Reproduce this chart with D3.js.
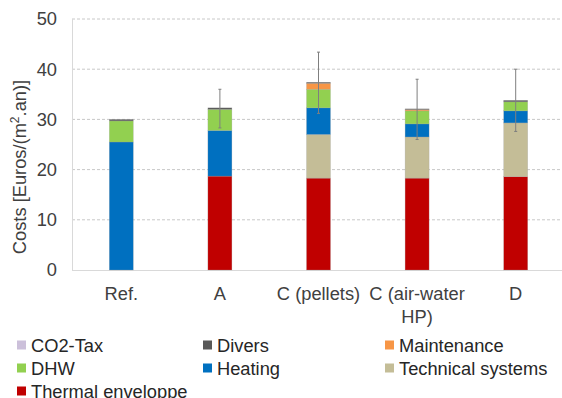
<!DOCTYPE html>
<html><head><meta charset="utf-8">
<script src="https://cdn.jsdelivr.net/npm/d3@7"></script>
<style>body{margin:0;background:#fff}svg{display:block;font-family:"Liberation Sans",Arial,sans-serif}</style>
</head><body><svg id="c" width="562" height="398"></svg>
<script>
const categories = ["Ref.", "A", "C (pellets)", "C (air-water HP)", "D"];
const seriesNames = ["Thermal enveloppe", "Technical systems", "Heating", "DHW", "Maintenance", "Divers", "CO2-Tax"];
const thermal   = [0, 18.7, 18.3, 18.3, 18.6];
const technical = [0, 0, 8.7, 8.2, 10.7];
const heating   = [25.5, 9.1, 5.3, 2.6, 2.4];
const dhw       = [4.2, 4.2, 3.7, 2.6, 1.8];
const maintenance = [0, 0, 1.2, 0.25, 0];
const divers    = [0.3, 0.3, 0.2, 0.15, 0.3];
const co2tax    = [0, 0, 0, 0, 0];
const errLow  = [null, 28.3, 31.2, 26.0, 27.6];
const errHigh = [null, 36.0, 43.4, 38.0, 40.0];
const yTicks = [0, 10, 20, 30, 40, 50];
const colors = ["#c00000", "#c4bd97", "#0070c0", "#92d050", "#f79646", "#595959", "#ccc0da"];
const legendOrder = ["CO2-Tax", "Divers", "Maintenance", "DHW", "Heating", "Technical systems", "Thermal enveloppe"];

const seriesValues = [thermal, technical, heating, dhw, maintenance, divers, co2tax];
const rows = categories.map((c, i) => {
  const r = {cat: c};
  seriesNames.forEach((s, k) => r[s] = seriesValues[k][i]);
  return r;
});
const FS = 18.3;
const svg = d3.select("#c");
const x = d3.scaleBand().domain(categories).range([72, 565]);
const y = d3.scaleLinear().domain([0, 50]).range([270, 19]);
const color = d3.scaleOrdinal().domain(seriesNames).range(colors);

// grid
svg.append("g").selectAll("line").data(yTicks.filter(t => t > 0)).join("line")
  .attr("x1", 72).attr("x2", 562).attr("y1", d => y(d)).attr("y2", d => y(d))
  .attr("stroke", "#c8c8c8").attr("stroke-width", 1).attr("stroke-dasharray", "3,2");
// axes
svg.append("line").attr("x1", 72.5).attr("x2", 72.5).attr("y1", y(50)).attr("y2", y(0)).attr("stroke", "#d9d9d9");
svg.append("line").attr("x1", 72).attr("x2", 562).attr("y1", y(0) + 0.5).attr("y2", y(0) + 0.5).attr("stroke", "#d9d9d9");

const yAxis = svg.append("g").attr("transform", "translate(72,0)")
  .call(d3.axisLeft(y).tickValues(yTicks).tickSize(0).tickPadding(15));
yAxis.select(".domain").remove();
yAxis.selectAll("text").attr("font-size", FS).attr("fill", "#404040").attr("font-family", "Liberation Sans, Arial, sans-serif");

// bars
const stack = d3.stack().keys(seriesNames)(rows);
const bw = 24;
svg.append("g").selectAll("g").data(stack).join("g").attr("fill", d => color(d.key))
  .selectAll("rect").data(d => d).join("rect")
  .attr("x", d => x(d.data.cat) + x.bandwidth() / 2 - bw / 2)
  .attr("width", bw)
  .attr("y", d => y(d[1]))
  .attr("height", d => Math.max(0, y(d[0]) - y(d[1])))
  .attr("stroke", "rgba(160,160,160,0.5)").attr("stroke-width", 0.5);

// error bars
const eg = svg.append("g").attr("stroke", "#7f7f7f").attr("stroke-width", 1);
categories.forEach((c, i) => {
  if (errLow[i] == null) return;
  const cx = x(c) + x.bandwidth() / 2;
  eg.append("line").attr("x1", cx).attr("x2", cx).attr("y1", y(errLow[i])).attr("y2", y(errHigh[i]));
  [errLow[i], errHigh[i]].forEach(v => eg.append("line").attr("x1", cx - 1.5).attr("x2", cx + 1.5).attr("y1", y(v)).attr("y2", y(v)));
});

// x labels
const xl = svg.append("g");
categories.forEach(c => {
  const cx = x(c) + x.bandwidth() / 2;
  let lines = [c];
  if (c === "C (air-water HP)") lines = ["C (air-water", "HP)"];
  lines.forEach((l, j) => xl.append("text").attr("x", cx).attr("y", 300 + j * 23)
    .attr("text-anchor", "middle").attr("font-size", FS).attr("fill", "#404040").text(l));
});

// y title
const yt = svg.append("text").attr("transform", "translate(26,167) rotate(-90)")
  .attr("text-anchor", "middle").attr("font-size", FS).attr("fill", "#404040");
yt.append("tspan").text("Costs [Euros/(m");
yt.append("tspan").attr("font-size", 12).attr("dy", -7).text("2");
yt.append("tspan").attr("dy", 7).text(".an)]");

// legend
const colX = [17, 203, 385];
const rowY = [345, 368, 391];
legendOrder.forEach((name, i) => {
  const lx = colX[i % 3], ly = rowY[Math.floor(i / 3)];
  svg.append("rect").attr("x", lx).attr("y", ly - 4.5).attr("width", 9).attr("height", 9).attr("fill", color(name));
  svg.append("text").attr("x", lx + 14).attr("y", ly + 6.5).attr("font-size", FS).attr("fill", "#262626").text(name);
});
</script></body></html>
